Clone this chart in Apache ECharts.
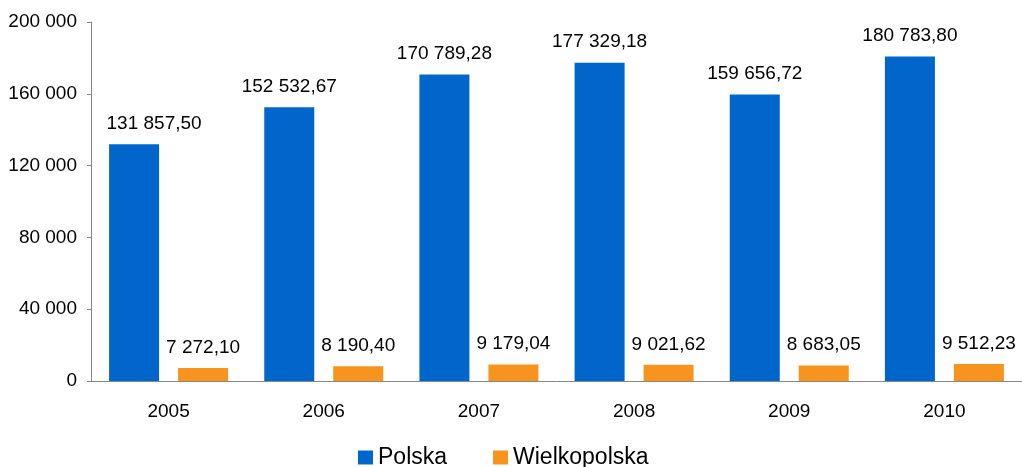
<!DOCTYPE html>
<html>
<head>
<meta charset="utf-8">
<script src="https://cdn.jsdelivr.net/npm/echarts@6/dist/echarts.min.js"></script>
<style>
html, body { margin: 0; padding: 0; background: #fff; }
#bar-charts { width: 1022px; height: 467px; }
</style>
</head>
<body>
<div id="bar-charts"></div>
<script>
// lata
let years = ['2005', '2006', '2007', '2008', '2009', '2010']
// wartosci serii
let polska = [131857.50, 152532.67, 170789.28, 177329.18, 159656.72, 180783.80]
let wielkopolska = [7272.10, 8190.40, 9179.04, 9021.62, 8683.05, 9512.23]
let yTicks = [0, 40000, 80000, 120000, 160000, 200000]

const FONT = '"Liberation Sans", Arial, sans-serif'

// 131857.5 -> "131 857,50"
function fmtNum(v, dec) {
    let s = v.toFixed(dec)
    let parts = s.split('.')
    let intPart = parts[0].replace(/\B(?=(\d{3})+(?!\d))/g, ' ')
    return parts.length > 1 ? intPart + ',' + parts[1] : intPart
}

function initECharts() {
    let dom = document.getElementById('bar-charts')
    let charts = echarts.init(dom)
    let labelStyle = {
        show: true,
        position: 'top',
        distance: 11,
        color: '#000',
        fontFamily: FONT,
        fontSize: 19,
        formatter: (p) => fmtNum(p.value, 2)
    }
    let config = {
        animation: false,
        textStyle: { fontFamily: FONT },
        legend: {
            data: ['Polska', 'Wielkopolska'],
            icon: 'rect',
            itemWidth: 15,
            itemHeight: 14,
            itemGap: 46,
            padding: 0,
            left: 358,
            top: 446,
            textStyle: { color: '#000', fontSize: 23, fontFamily: FONT }
        },
        grid: {
            left: 91,
            right: 0,
            top: 22,
            bottom: 86,
            containLabel: false
        },
        xAxis: {
            type: 'category',
            data: years,
            axisLine: { lineStyle: { color: '#888', width: 1 } },
            axisTick: { show: false },
            axisLabel: { color: '#000', fontSize: 19, fontFamily: FONT, margin: 21 }
        },
        yAxis: {
            type: 'value',
            min: yTicks[0],
            max: yTicks[yTicks.length - 1],
            interval: yTicks[1] - yTicks[0],
            axisLine: { show: true, lineStyle: { color: '#888', width: 1 } },
            axisTick: { show: true, length: 4, lineStyle: { color: '#888' } },
            splitLine: { show: false },
            axisLabel: {
                color: '#000',
                fontSize: 19,
                fontFamily: FONT,
                margin: 14,
                formatter: (v) => fmtNum(v, 0)
            }
        },
        series: [
            {
                name: 'Polska',
                type: 'bar',
                barWidth: 50,
                barGap: '38%',
                itemStyle: { color: '#0066CC' },
                label: labelStyle,
                data: polska.map((v, i) => i === 0 ? { value: v, label: { offset: [20, 0] } } : v)
            },
            {
                name: 'Wielkopolska',
                type: 'bar',
                barWidth: 50,
                barGap: '38%',
                itemStyle: { color: '#F7941E' },
                label: labelStyle,
                data: wielkopolska
            }
        ]
    }
    config && charts.setOption(config)
    window.addEventListener('resize', () => charts.resize())
}

initECharts()
</script>
</body>
</html>
